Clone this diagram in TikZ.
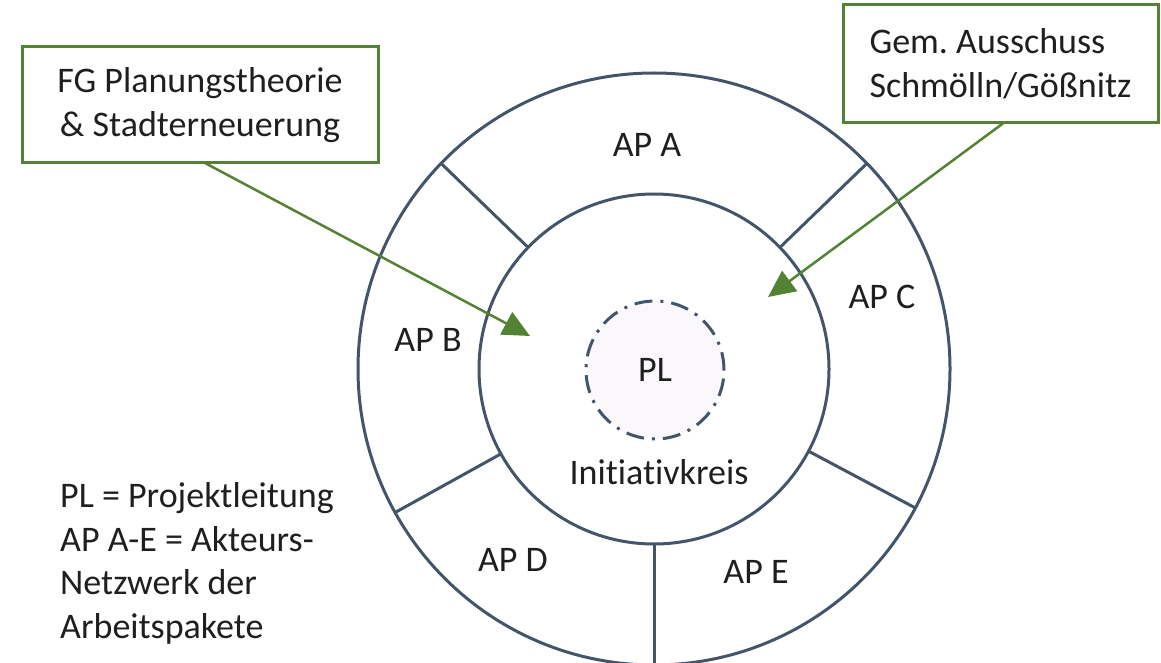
\documentclass[tikz,border=0pt]{standalone}
\usepackage{fontspec}
\setmainfont{Carlito}[Ligatures=NoCommon]
\usetikzlibrary{arrows.meta}
\definecolor{ringgray}{HTML}{44546A}
\definecolor{boxgreen}{HTML}{548235}
\definecolor{plfill}{HTML}{FAF8FA}
\begin{document}
\frenchspacing
\begin{tikzpicture}[x=1pt,y=-1pt,
  ring/.style={circle, draw=ringgray, line width=3pt, inner sep=0pt, outer sep=0pt},
  divider/.style={draw=ringgray, line width=3pt},
  txt/.style={font=\fontsize{36}{43.5}\selectfont, text=black!88, inner sep=0pt},
  gbox/.style={draw=boxgreen, line width=3pt, inner sep=0pt, outer sep=0pt, font=\fontsize{36}{43.5}\selectfont, text=black!88},
  garrow/.style={draw=boxgreen, line width=2.5pt, -{Triangle[length=27pt,width=25pt]}}
]
\useasboundingbox (0,0) rectangle (1161,663);
\coordinate (C) at (654,369);
% rings
\node[ring, minimum size=592pt] (outer) at (C) {};
\node[ring, minimum size=350pt] (inner) at (C) {};
\node[ring, minimum size=138pt, fill=plfill, dash pattern=on 18pt off 8pt on 3pt off 8pt, font=\fontsize{36}{43.5}\selectfont, text=black!88] (pl) at (655,370) {PL};
% dividers
\draw[divider] (inner.136) -- (outer.136);
\draw[divider] (inner.44) -- (outer.44);
\draw[divider] (inner.-28) -- (outer.-28);
\draw[divider] (inner.209.5) -- (outer.209.5);
\draw[divider] (inner.270) -- (outer.270);
% labels
\node[txt] (apA) at (647,145) {AP A};
\node[txt] (apB) at (428,340) {AP B};
\node[txt] (apC) at (882,297) {AP C};
\node[txt] (apD) at (513,560) {AP D};
\node[txt] (apE) at (756,572) {AP E};
\node[txt] (ik) at (659,472) {Initiativkreis};
% boxes
\node[gbox, minimum width=356pt, minimum height=116pt, align=center] (fg) at (200,105) {FG Planungstheorie\\\& Stadterneuerung};
\node[gbox, minimum width=315pt, minimum height=118pt, align=left] (gem) at (1000.5,64) {Gem. Ausschuss\\Schmölln/Gößnitz};
% legend
\node[txt, align=left, anchor=base west] (leg) at (60,638) {PL = Projektleitung\\AP A-E = Akteurs-\\Netzwerk der\\Arbeitspakete};
% arrows
\coordinate (tipB) at (530,336);
\coordinate (tipC) at (768,297);
\draw[garrow] ([xshift=5pt]fg.south) -- (tipB);
\draw[garrow] ([xshift=3pt]gem.south) -- (tipC);
\end{tikzpicture}
\end{document}
